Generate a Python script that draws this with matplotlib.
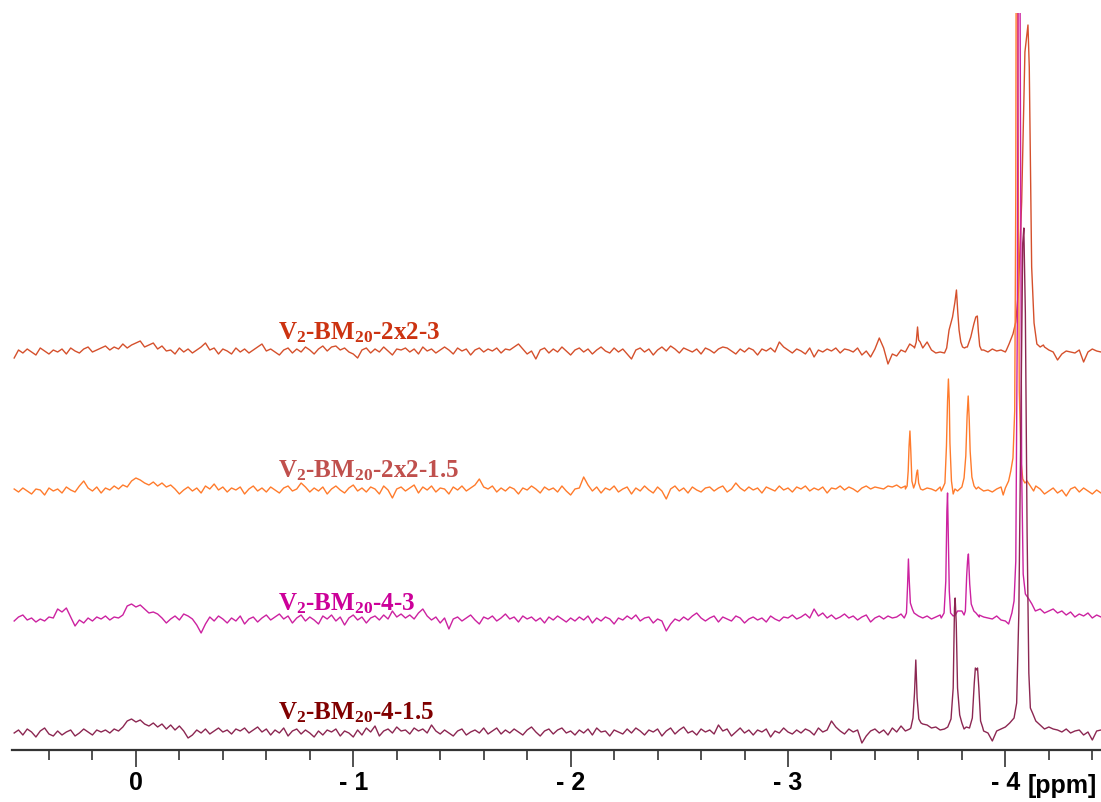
import numpy as np
import matplotlib
matplotlib.use("Agg")
import matplotlib.pyplot as plt

# ---------------- data ----------------
# chemical-shift sampling grid for the baseline noise (ppm, every 0.02 ppm from 0.56 to -4.44)
grid_start, grid_step, grid_n = 0.56, -0.02, 251

sample_names = ["V$_2$-BM$_{20}$-2x2-3", "V$_2$-BM$_{20}$-2x2-1.5",
                "V$_2$-BM$_{20}$-4-3", "V$_2$-BM$_{20}$-4-1.5"]

# baseline noise (arbitrary intensity units), one row = 0.2 ppm
noise_2x2_3 = [
    -6, 2, -1, 3, 0, -3, 4, 1, -2, 2,
    0, 3, -2, 4, 1, -1, 3, 5, 0, 2,
    4, 6, 2, 5, 3, 8, 4, 7, 9, 11,
    5, 7, 9, 3, 6, 1, 2, -2, 4, 0,
    3, -1, 2, 5, 9, 2, 4, -2, 3, 1,
    -2, 4, 0, 3, -1, 2, 5, 8, 1, 3,
    0, -3, 2, 4, -1, 3, 0, 5, 2, -2,
    3, 6, 1, 5, 6, 2, 4, 0, -2, -6,
    2, 4, -1, 3, 0, 5, 1, -3, 3, 2,
    4, 0, 3, -2, 5, 1, 3, -1, 2, 5,
    2, -2, 4, 1, 3, -3, 2, 4, 0, 3,
    1, 4, -1, 3, 2, 5, 8, 3, -2, 1,
    -7, 2, 4, -1, 3, 0, 5, 1, -3, 2,
    4, 0, 3, -2, 2, 5, 1, -1, 4, 0,
    3, -2, -7, 2, 4, 0, 3, -3, 2, 5,
    1, 6, 3, -1, 4, 2, 0, 3, -2, 4,
    2, -1, 3, 5, 4, 1, -2, 3, 0, 4,
    2, -3, 3, 1, 4, 0, 10, 5, 2, -1,
    3, 1, -2, 4, -5, 2, 0, 3, 1, 4,
    -1, 3, 2, 0, 4, -3, 1, -5, 3, 14,
    4, -12, -2, -4, 2, 0, 8, 5, 6, 4,
    10, 2, -1, 0, -1, 10, 30, 40, 20, 5,
    20, 30, 10, 2, 0, 3, 1, 2, 0, 8,
    18, 50, 200, 300, 100, 8, 6, 5, 2, 0,
    -8, -2, 1, 0, -1, 2, -10, 0, 3, 1,
    0]

noise_2x2_15 = [
    2, -1, 3, 0, -3, 2, 1, -4, 3, 0,
    2, -2, 4, 1, -1, 5, 10, 3, 0, 4,
    -2, 3, 1, 5, 2, 6, 4, 10, 13, 11,
    8, 6, 9, 5, 8, 4, 6, 2, -3, 1,
    4, 0, 3, -2, 5, 2, 7, 1, 4, -1,
    3, 1, 4, -3, 2, 5, 0, 3, -1, 4,
    1, -2, 3, 5, 0, 2, 8, 4, -1, 3,
    0, 4, -3, 2, 5, 1, -2, 3, 6, 0,
    3, -1, 4, 2, -3, 5, 1, -7, 2, 4,
    0, 3, 6, -2, 4, 1, 5, -1, 3, 2,
    -3, 4, 1, 5, 0, 3, 6, 12, 4, 2,
    5, -1, 3, 0, 4, 2, -3, 3, 1, 5,
    2, -2, 4, 1, 3, -1, 5, 0, -4, 2,
    3, 14, 6, 0, 4, -2, 3, 1, 5, -1,
    2, 4, -3, 3, 0, 5, 1, -2, 4, 0,
    -8, 2, 5, 0, 3, -2, 4, 1, -1, 3,
    4, 0, 3, 5, -1, 2, 8, 3, 0, 4,
    1, 3, -2, 4, 2, 0, 5, 1, 3, -1,
    4, 2, 5, 0, 3, 1, 4, -2, 3, 2,
    5, 1, 4, 2, -1, 3, 5, 2, 4, 3,
    2, 5, 4, 6, 3, 5, 8, 4, 3, 1,
    3, 2, 0, 4, 2, 1, 3, 0, 2, 3,
    2, -2, 3, 0, 1, -1, 2, 4, 5, -4,
    30, 100, 10, 6, 4, 5, 2, -3, 0, 3,
    -2, 1, -5, 2, 4, -1, 3, 0, -3, 1,
    -2]

noise_4_3 = [
    0, 4, 6, 1, 3, -1, 2, 0, 4, 3,
    12, 9, 13, 4, -5, 1, -2, 3, 0, 4,
    2, 5, 1, 4, 3, 6, 15, 17, 14, 16,
    12, 8, 9, 7, 3, -2, 2, 5, 1, 7,
    5, 2, -4, -12, -3, 4, 0, 5, 2, -2,
    3, 0, 5, -3, 2, 4, -1, 3, 6, 1,
    4, 7, 2, 5, -2, 3, 6, 0, 4, 1,
    -3, 5, 2, 6, 0, 4, -4, 3, 6, 1,
    4, -2, 3, 5, 1, 6, 2, 10, 4, 7,
    3, 6, 2, 8, 12, 5, 1, 4, -2, 3,
    -8, 2, 4, 0, 3, 6, 1, -3, 4, 2,
    5, 0, 3, 7, 2, 4, -1, 5, 2, 4,
    0, 3, -2, 4, 1, 5, 2, -1, 3, 0,
    4, 1, 5, -2, 3, 0, 4, 2, -3, 3,
    1, 5, 2, 6, 0, 3, 4, -2, 2, 0,
    -10, -3, 2, 0, 4, 1, 5, 8, 3, 0,
    3, 5, -1, 4, 2, 0, 5, 3, -2, 2,
    4, 1, 3, -1, 5, 2, 0, 4, 3, 6,
    2, 4, 7, 3, 12, 5, 8, 3, 6, 2,
    4, 7, 3, 5, 1, 4, 6, -1, 3, 5,
    2, 5, 3, 4, 7, 5, 8, 6, 5, 3,
    5, 2, 4, 6, 3, 2, 3, 10, 10, 12,
    12, 8, 6, 4, 3, 2, 5, 1, 0, 8,
    15, 40, 60, 30, 22, 20, 15, 12, 10, 12,
    8, 10, 6, 9, 4, 7, 5, 8, 3, 6,
    4]

noise_4_15 = [
    0, 3, -2, 4, 1, -4, 2, 5, -1, -3,
    2, -2, 1, 3, -3, 0, 4, 1, -2, 3,
    1, 3, 0, 4, 2, 6, 12, 14, 11, 13,
    9, 7, 10, 6, 9, 4, 8, 3, 7, 2,
    -5, -2, 3, 0, 4, -1, 2, 5, 1, 3,
    -1, 4, 2, 5, 0, 3, 6, 1, 4, -2,
    3, 0, 5, -3, 2, 4, -1, 3, 0, -4,
    2, -2, 3, 1, 4, -3, 2, 0, -4, 3,
    -2, 5, 1, 7, -3, 2, 4, 0, 6, 2,
    3, -1, 5, 2, 4, 0, 8, 2, -1, 3,
    0, -3, 2, 4, -2, 1, 3, 0, 5, -1,
    2, 5, -1, 3, 0, 4, 1, -2, 3, 6,
    1, -3, 2, 4, -1, 3, 5, 0, 2, -2,
    3, 0, 4, -2, 5, 1, 2, -3, 3, 1,
    -1, 4, 0, 5, 2, -2, 3, 1, 4, -3,
    2, 5, -1, 3, 6, 0, 2, -2, 4, 1,
    3, -1, 8, 2, 4, -3, 1, 5, 0, 3,
    -2, 3, 1, 4, -4, 2, 0, 5, 1, -1,
    3, 0, 4, 2, -2, 5, 1, 3, 12, 6,
    2, -1, 4, 1, 3, -10, -3, 2, 4, 0,
    3, -2, 5, 1, 7, 2, 4, 8, 10, 9,
    8, 5, 6, 3, 4, 2, 6, 8, 8, 6,
    4, 6, 5, 2, 0, -8, 2, 4, 6, 10,
    20, 30, 60, 200, 100, 30, 18, 10, 6, 4,
    3, 1, 4, 0, 2, 3, -2, 1, -7, 2,
    3]

# resonances (ppm, intensity), one list pair per peak
peaks_2x2_3 = [
    ([-3.582, -3.590, -3.596, -3.601, -3.608, -3.616], [4, 10, 25, 12, 10, 6]),
    ([-3.720, -3.730, -3.741, -3.757, -3.768, -3.775, -3.781, -3.787, -3.795, -3.803, -3.812],
     [-1, 4, 22, 35, 50, 62, 40, 22, 10, 5, 4]),
    ([-3.825, -3.841, -3.855, -3.864, -3.871, -3.876, -3.882, -3.890], [5, 15, 28, 35, 36, 20, 6, 2]),
    ([-4.005, -4.017, -4.035, -4.048, -4.060, -4.075, -4.090, -4.104, -4.110, -4.121, -4.132,
      -4.145, -4.160, -4.175],
     [2, 8, 18, 30, 60, 150, 300, 327, 285, 85, 29, 8, 5, 7]),
]
peaks_2x2_15 = [
    ([-3.540, -3.548, -3.553, -3.557, -3.561, -3.565, -3.570, -3.578, -3.586, -3.592, -3.596,
      -3.601, -3.610],
     [2, 5, 20, 45, 60, 40, 10, 3, 8, 18, 21, 8, 2]),
    ([-3.705, -3.712, -3.722, -3.729, -3.734, -3.738, -3.742, -3.745, -3.752, -3.760, -3.768],
     [0, 3, 8, 45, 90, 112, 90, 48, 10, -3, 2]),
    ([-3.800, -3.810, -3.818, -3.824, -3.829, -3.834, -3.838, -3.846, -3.856, -3.866, -3.876],
     [4, 13, 35, 75, 95, 70, 40, 14, 5, 2, 4]),
    ([-3.990, -4.000, -4.015, -4.025, -4.035, -4.043, -4.048, -4.052, -4.058, -4.064, -4.072,
      -4.080, -4.090, -4.100, -4.115, -4.130],
     [-4, 3, 10, 20, 33, 80, 300, 800, 400, 100, 30, 12, 8, 10, 5, 0]),
]
peaks_4_3 = [
    ([-3.535, -3.545, -3.550, -3.554, -3.558, -3.563, -3.572, -3.580],
     [3, 8, 35, 62, 40, 18, 12, 8]),
    ([-3.705, -3.718, -3.726, -3.731, -3.734, -3.738, -3.742, -3.748, -3.760, -3.770],
     [3, 8, 40, 110, 128, 80, 30, 8, 5, 6]),
    ([-3.810, -3.816, -3.822, -3.826, -3.830, -3.836, -3.843, -3.855, -3.865, -3.880],
     [6, 10, 45, 60, 67, 37, 17, 10, 8, 4]),
    ([-4.015, -4.030, -4.040, -4.048, -4.055, -4.062, -4.068, -4.075, -4.082, -4.092, -4.108,
      -4.122, -4.138, -4.160, -4.180],
     [-3, 8, 20, 60, 300, 900, 600, 150, 47, 27, 22, 17, 10, 12, 8]),
]
peaks_4_15 = [
    ([-3.565, -3.575, -3.582, -3.588, -3.594, -3.602, -3.612], [5, 15, 40, 73, 35, 14, 10]),
    ([-3.735, -3.750, -3.760, -3.766, -3.769, -3.774, -3.780, -3.790, -3.800, -3.810],
     [6, 14, 45, 125, 135, 110, 45, 18, 10, 4]),
    ([-3.835, -3.848, -3.857, -3.862, -3.868, -3.872, -3.878, -3.886, -3.895],
     [5, 15, 50, 65, 63, 65, 45, 12, 6]),
    ([-4.000, -4.020, -4.040, -4.052, -4.062, -4.072, -4.080, -4.085, -4.092, -4.100, -4.108,
      -4.115, -4.125, -4.140, -4.160, -4.180],
     [6, 10, 15, 30, 120, 320, 490, 505, 420, 200, 60, 25, 20, 12, 8, 4]),
]

tick_values = [0, -1, -2, -3, -4]
tick_labels = ["0", "- 1", "- 2", "- 3", "- 4"]
axis_unit = "[ppm]"

# ---------------- style / layout ----------------
line_colors = ["#D5502C", "#FF7B2C", "#CC22A0", "#8C2752"]
label_colors = ["#CC3311", "#C0504D", "#CC0099", "#800000"]
offsets = [398, 259, 129, 17]
label_y = [411, 273, 140, 31]
label_x = -0.655

W, H = 1101, 802
fig = plt.figure(figsize=(W / 100, H / 100), dpi=100)
ax = fig.add_axes([12 / W, 52 / H, 1 - 12 / W, (789 - 52) / H])
ax.set_xlim(0.57, -4.44)
ax.set_ylim(0, 737)

plt.rcParams["mathtext.default"] = "regular"

grid = grid_start + grid_step * np.arange(grid_n)


def build(noise, peaks):
    noise = np.asarray(noise, float)
    keep = np.ones(grid_n, bool)
    xs, ys = [], []
    for px, py in peaks:
        lo, hi = min(px), max(px)
        keep &= ~((grid >= lo) & (grid <= hi))
        xs.extend(px)
        ys.extend(py)
    x = np.concatenate([grid[keep], xs])
    y = np.concatenate([noise[keep], ys])
    order = np.argsort(-x)
    return x[order], y[order]


series = [(noise_2x2_3, peaks_2x2_3), (noise_2x2_15, peaks_2x2_15),
          (noise_4_3, peaks_4_3), (noise_4_15, peaks_4_15)]
for i, (nz, pk) in enumerate(series):
    x, y = build(nz, pk)
    ax.plot(x, y + offsets[i], color=line_colors[i], lw=1.0, zorder=2 + i,
            solid_joinstyle="round")
    ax.text(label_x, label_y[i], sample_names[i], color=label_colors[i],
            fontfamily="Liberation Serif", fontweight="bold", fontsize=18,
            ha="left", va="baseline", zorder=10)

for s in ["top", "right", "left"]:
    ax.spines[s].set_visible(False)
ax.spines["bottom"].set_color("#333333")
ax.spines["bottom"].set_linewidth(1.6)
ax.set_yticks([])
ax.set_xticks(tick_values)
ax.set_xticklabels(tick_labels, fontfamily="Liberation Sans", fontweight="bold",
                   fontsize=18)
ax.set_xticks(np.arange(0.4, -4.41, -0.2), minor=True)
ax.tick_params(axis="x", which="major", direction="out", length=12.2, width=1.2,
               color="#333333", pad=3)
ax.tick_params(axis="x", which="minor", direction="out", length=7.2, width=1.2,
               color="#333333")
fig.text(1028 / W, (H - 793) / H, axis_unit, fontfamily="Liberation Sans",
         fontweight="bold", fontsize=18, ha="left", va="baseline")

fig.savefig("out.png", dpi=100)
